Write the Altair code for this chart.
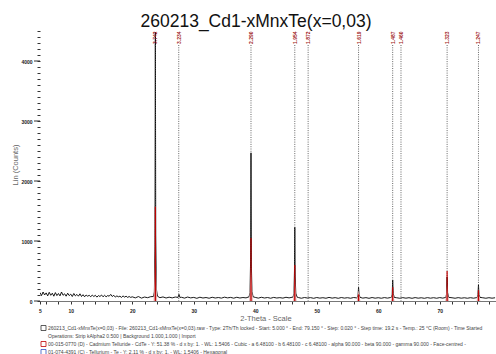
import altair as alt
import pandas as pd

# ---------------- data ----------------
# low-angle baseline, 5.00 .. 19.75 deg, step 0.25
base_a_start, base_a_step = 5.0, 0.25
base_a_counts = [140, 90, 150, 100, 135, 85, 145, 95, 130, 80, 140, 90, 125, 85, 150, 95,
                 120, 80, 130, 90, 115, 75, 125, 85, 110, 80, 120, 75, 105, 70, 100, 80,
                 95, 70, 100, 75, 95, 65, 90, 75, 100, 70, 95, 70, 90, 80, 110, 75,
                 95, 65, 85, 70, 80, 60, 85, 65, 80, 60, 75, 60]
# baseline 20.0 .. 79.0 deg, step 0.5
base_b_start, base_b_step = 20.0, 0.5
base_b_counts = [70, 52, 74, 48, 66, 55, 72, 60, 78, 55, 68, 50, 64, 52, 66, 58, 62, 48, 66, 52,
                 60, 45, 63, 50, 58, 46, 62, 50, 58, 48, 64, 52, 60, 47, 62, 50, 58, 52, 66, 70,
                 60, 48, 62, 50, 58, 46, 60, 50, 56, 48, 62, 52, 62, 70, 58, 46, 58, 50, 56, 45,
                 58, 48, 55, 46, 60, 48, 56, 45, 58, 48, 55, 46, 58, 52, 60, 48, 56, 45, 58, 47,
                 55, 46, 57, 48, 58, 60, 54, 46, 56, 47, 55, 45, 57, 47, 54, 45, 56, 47, 55, 46,
                 57, 48, 58, 60, 54, 46, 56, 47, 54, 46, 55, 47, 56, 58, 54, 46, 55, 47, 54]

# diffraction peaks (2theta, counts)
peak_tt = [23.45, 23.6, 23.7, 23.76, 23.82, 23.92, 24.1,
           27.45, 27.6, 27.75,
           39.0, 39.15, 39.25, 39.31, 39.37, 39.47, 39.65,
           46.15, 46.3, 46.38, 46.43, 46.49, 46.6, 46.8,
           56.6, 56.72, 56.8, 56.88, 57.05,
           62.15, 62.27, 62.35, 62.43, 62.6,
           71.0, 71.12, 71.2, 71.28, 71.45,
           76.1, 76.22, 76.3, 76.38, 76.55]
peak_ct = [75, 150, 900, 4480, 1100, 200, 80,
           60, 110, 60,
           70, 140, 700, 2470, 600, 160, 70,
           65, 130, 500, 1230, 400, 130, 65,
           60, 100, 230, 110, 60,
           60, 110, 350, 130, 60,
           60, 120, 400, 140, 60,
           60, 110, 270, 110, 60]
peak_windows = [(23.45, 24.1), (27.45, 27.75), (39.0, 39.65), (46.15, 46.8),
                (56.6, 57.05), (62.15, 62.6), (71.0, 71.45), (76.1, 76.55)]

# reference pattern (red sticks, pink peak shading)
stick_tt = [23.76, 39.31, 46.43, 56.8, 62.35, 71.2, 76.3]
stick_ct = [1570, 1050, 600, 110, 230, 500, 180]
pink_ct = [850, 570, 400, 180, 180, 270, 180]

# dotted marker lines with d-spacing labels
marker_tt = [23.76, 27.56, 39.31, 46.43, 48.6, 56.8, 62.35, 63.7, 71.2, 76.3]
marker_lbl = ["3.742", "3.234", "2.290", "1.954", "1.872", "1.619", "1.487", "1.460", "1.323", "1.247"]

title_text = "260213_Cd1-xMnxTe(x=0,03)"
x_title = "2-Theta - Scale"
y_title = "Lin (Counts)"
legend_lines = [
    "260213_Cd1-xMnxTe(x=0,03) - File: 260213_Cd1-xMnxTe(x=0,03).raw - Type: 2Th/Th locked - Start: 5.000 \u00b0 - End: 79.150 \u00b0 - Step: 0.020 \u00b0 - Step time: 19.2 s - Temp.: 25 \u00b0C (Room) - Time Started",
    "Operations: Strip kAlpha2 0.500 | Background 1.000,1.000 | Import",
    "00-015-0770 (D) - Cadmium Telluride - CdTe - Y: 51.38 % - d x by: 1. - WL: 1.5406 - Cubic - a 6.48100 - b 6.48100 - c 6.48100 - alpha 90.000 - beta 90.000 - gamma 90.000 - Face-centred -",
    "01-074-4391 (C) - Tellurium - Te - Y: 2.11 % - d x by: 1. - WL: 1.5406 - Hexagonal",
]
x_ticks = [5, 6, 8, 10, 12, 14, 16, 18, 20, 22, 24, 26, 28, 30, 32, 34, 36, 38, 40, 42, 44, 46,
           48, 50, 52, 54, 56, 58, 60, 62, 64, 66, 68, 70, 72, 74, 76, 78]
y_ticks = list(range(0, 4501, 100))
y_major = [0, 1000, 2000, 3000, 4000]

# ---------------- build tables ----------------
rows = []
for i, c in enumerate(base_a_counts):
    rows.append((base_a_start + i * base_a_step, c))
for i, c in enumerate(base_b_counts):
    rows.append((base_b_start + i * base_b_step, c))
rows = [r for r in rows if not any(lo <= r[0] <= hi for lo, hi in peak_windows)]
rows += list(zip(peak_tt, peak_ct))
rows.sort()
scan = pd.DataFrame(rows, columns=["tt", "ct"])

pink_rows = []
for t, h in zip(stick_tt, pink_ct):
    pink_rows += [(t - 0.3, 0), (t, h), (t + 0.3, 0)]
pink = pd.DataFrame(pink_rows, columns=["tt", "ct"])
sticks = pd.DataFrame({"tt": stick_tt, "ct": stick_ct})
markers = pd.DataFrame({"tt": marker_tt, "lbl": marker_lbl})
ymaj = pd.DataFrame({"ct": y_major})

xs = alt.Scale(domain=[5, 79.15], nice=False, zero=False)
ys = alt.Scale(domain=[0, 4500], nice=False, zero=True)

major_expr = "indexof([5,10,20,30,40,50,60,70], datum.value) >= 0 ? datum.value : ''"
XAX = alt.Axis(values=x_ticks, labelExpr=major_expr, title=None, grid=False,
               tickSize=3, tickColor="#333", domainColor="#777", domainWidth=1,
               labelFontSize=5, labelFontWeight="bold", labelColor="#222", labelPadding=4,
               labelFlush=False, labelOverlap=False, labelFont="Liberation Sans")
YAX = alt.Axis(values=y_ticks, labelExpr="datum.value % 1000 == 0 ? datum.value : ''",
               title=None, grid=False, domain=False, tickSize=3, tickColor="#333",
               labelFontSize=5, labelFontWeight="bold", labelColor="#222", labelPadding=5,
               labelOverlap=False, labelFont="Liberation Sans")


def X():
    return alt.X("tt:Q", scale=xs, axis=XAX)


def Y():
    return alt.Y("ct:Q", scale=ys, axis=YAX)


line = alt.Chart(scan).mark_line(color="black", strokeWidth=0.9, clip=True).encode(x=X(), y=Y())

dotted = alt.Chart(markers).mark_rule(color="#555", strokeWidth=0.9, strokeDash=[1, 1.3]).encode(
    x=X(), y=alt.value(14), y2=alt.value(270))
labels = alt.Chart(markers).mark_text(
    angle=270, align="left", baseline="middle", fontSize=5, color="#a02020",
    font="Liberation Sans", fontWeight="bold").encode(x=X(), y=alt.value(13), text="lbl:N")
pink_area = alt.Chart(pink).mark_area(color="#e4aaaa", opacity=0.9).encode(x=X(), y=Y())
red = alt.Chart(sticks).mark_rule(color="#c00000", strokeWidth=1.2).encode(
    x=X(), y=Y(), y2=alt.datum(0))
ymaj_ticks = alt.Chart(ymaj).mark_rule(color="#333", strokeWidth=1).encode(
    x=alt.value(-6), x2=alt.value(0), y=Y())

one = alt.Data(values=[{"a": 1}])


def txt(s, x, y, size, color="#555", angle=0, align="left", weight="normal"):
    kw = dict(fontSize=size, color=color, align=align, baseline="middle",
              font="Liberation Sans", fontWeight=weight)
    if angle:
        kw["angle"] = angle
    return alt.Chart(one).mark_text(**kw).encode(
        x=alt.value(x), y=alt.value(y), text=alt.value(s))


L, T = 40, 31
texts = [
    alt.Chart(one).mark_text(fontSize=17.5, color="#111", align="center", baseline="alphabetic",
                             font="Liberation Sans").encode(
        x=alt.value(256 - L), y=alt.value(27 - T), text=alt.value(title_text)),
    txt(x_title, 266 - L, 319 - T, 7.5, color="#666", align="center"),
    txt(y_title, 16 - L, 165 - T, 7.5, color="#666", angle=270, align="center"),
    txt(legend_lines[0], 48 - L, 328 - T, 5, color="#444"),
    txt(legend_lines[1], 48 - L, 336 - T, 5, color="#444"),
    txt(legend_lines[2], 48 - L, 344 - T, 5, color="#444"),
    txt(legend_lines[3], 48 - L, 352 - T, 5, color="#444"),
]
icons = [
    alt.Chart(one).mark_rect(fill="white", stroke="#333", strokeWidth=0.8).encode(
        x=alt.value(41 - L), x2=alt.value(46 - L), y=alt.value(325.5 - T), y2=alt.value(330.5 - T)),
    alt.Chart(one).mark_rect(fill="white", stroke="#c00000", strokeWidth=0.8).encode(
        x=alt.value(41 - L), x2=alt.value(46 - L), y=alt.value(341.5 - T), y2=alt.value(346.5 - T)),
    alt.Chart(one).mark_rect(fill="white", stroke="#3050c0", strokeWidth=0.8).encode(
        x=alt.value(41 - L), x2=alt.value(46 - L), y=alt.value(349.5 - T), y2=alt.value(354.5 - T)),
]

chart = alt.layer(line, dotted, pink_area, red, labels, ymaj_ticks, *texts, *icons).properties(
    width=456, height=270,
    padding={"left": L, "top": T, "right": 0, "bottom": 53},
    autosize="none", background="white",
).configure_view(stroke=None)

chart.save("out.html", embed_options={"renderer": "svg", "actions": False})
